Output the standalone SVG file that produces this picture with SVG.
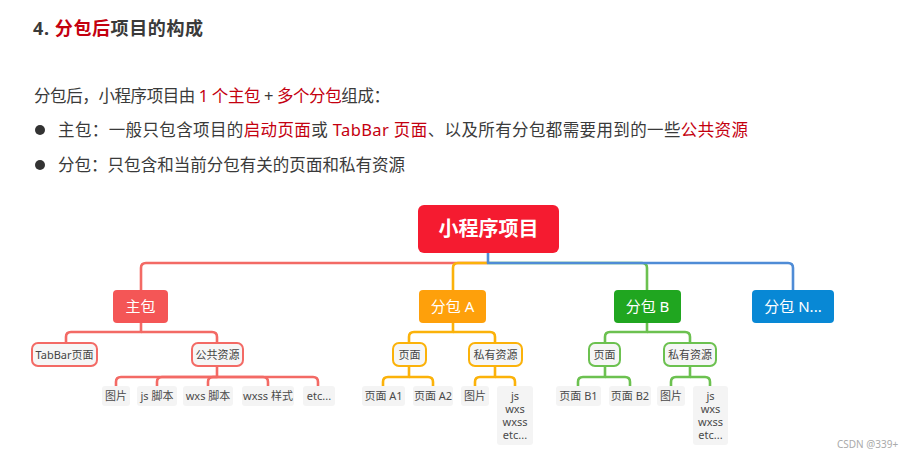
<svg xmlns="http://www.w3.org/2000/svg" width="913" height="458" viewBox="0 0 913 458">
<style>
text{font-family:"Noto Sans","Noto Sans CJK SC",sans-serif;}
.t{fill:#3a3a3a;font-size:16.5px;}
.r{fill:#c4000f;}
.c{fill:none;stroke-width:2.6;stroke-linejoin:round;}
.l1t{fill:#fff;font-size:15px;text-anchor:middle;}
.l2{fill:#f6f6f6;stroke-width:2;}
.l2t{fill:#444;font-size:11px;text-anchor:middle;}
.lf{fill:#f4f4f4;}
.lft{fill:#4a4a4a;font-size:11px;text-anchor:middle;}
</style>
<rect width="913" height="458" fill="#fff"/>
<text x="33" y="35" textLength="170" lengthAdjust="spacing" style="font-size:18px;font-weight:bold;fill:#3a3a3a">4. <tspan fill="#c4000f">分包后</tspan>项目的构成</text>
<text class="t" x="34" y="102" textLength="356" lengthAdjust="spacing">分包后，小程序项目由 <tspan class="r">1 个主包</tspan> + <tspan class="r">多个分包</tspan>组成：</text>
<circle cx="40" cy="130" r="5" fill="#333"/>
<text class="t" x="58" y="136" textLength="690" lengthAdjust="spacing">主包：一般只包含项目的<tspan class="r">启动页面</tspan>或 <tspan class="r">TabBar 页面</tspan>、以及所有分包都需要用到的一些<tspan class="r">公共资源</tspan></text>
<circle cx="40" cy="165" r="5" fill="#333"/>
<text class="t" x="58" y="171" textLength="347" lengthAdjust="spacing">分包：只包含和当前分包有关的页面和私有资源</text>

<g id="connectors">
<path class="c" stroke="#f36a65" d="M488,263 H146 Q141,263 141,268 V290"/>
<path class="c" stroke="#fbb20a" d="M488,263 H458 Q453,263 453,268 V290"/>
<path class="c" stroke="#6cc150" d="M488,263 H642 Q647,263 647,268 V290"/>
<path class="c" stroke="#4f8cd6" d="M488,253 V263 H788 Q793,263 793,268 V290"/>
<g stroke="#f36a65">
<path class="c" d="M141,323 V332 H71 Q66,332 66,337 V343"/>
<path class="c" d="M141,332 H212 Q217,332 217,337 V343"/>
<path class="c" d="M217,366 V377 H121 Q116,377 116,382 V386"/>
<path class="c" d="M217,377 H162 Q157,377 157,382 V386"/>
<path class="c" d="M217,377 H213 Q208,377 208,382 V386"/>
<path class="c" d="M217,377 H263 Q268,377 268,382 V386"/>
<path class="c" d="M217,377 H313 Q318,377 318,382 V386"/>
</g>
<g stroke="#fbb20a">
<path class="c" d="M453,323 V332 H414 Q409,332 409,337 V343"/>
<path class="c" d="M453,332 H490 Q495,332 495,337 V343"/>
<path class="c" d="M409,366 V377 H388 Q383,377 383,382 V386"/>
<path class="c" d="M409,377 H428 Q433,377 433,382 V386"/>
<path class="c" d="M495,366 V377 H480 Q475,377 475,382 V386"/>
<path class="c" d="M495,377 H510 Q515,377 515,382 V386"/>
</g>
<g stroke="#6cc150">
<path class="c" d="M647,323 V332 H610 Q605,332 605,337 V343"/>
<path class="c" d="M647,332 H685 Q690,332 690,337 V343"/>
<path class="c" d="M605,366 V377 H583 Q578,377 578,382 V386"/>
<path class="c" d="M605,377 H625 Q630,377 630,382 V386"/>
<path class="c" d="M690,366 V377 H676 Q671,377 671,382 V386"/>
<path class="c" d="M690,377 H705 Q710,377 710,382 V386"/>
</g>
</g>

<g id="root"><rect x="418" y="205" width="141" height="48" rx="6" fill="#f51b30"/><text x="488.5" y="236" style="fill:#fff;font-size:20px;font-weight:bold;text-anchor:middle">小程序项目</text></g>

<g id="zhubao"><rect x="113" y="290" width="55" height="33" rx="4" fill="#f45656"/><text class="l1t" x="140.5" y="312">主包</text></g>
<g id="fenbaoA"><rect x="419" y="290" width="67" height="33" rx="4" fill="#fea00b"/><text class="l1t" x="452.5" y="312">分包 A</text></g>
<g id="fenbaoB"><rect x="614" y="290" width="67" height="33" rx="4" fill="#20a620"/><text class="l1t" x="647.5" y="312">分包 B</text></g>
<g id="fenbaoN"><rect x="752" y="290" width="82" height="33" rx="4" fill="#0888d5"/><text class="l1t" x="793" y="312">分包 N...</text></g>

<g id="tabbar"><rect class="l2" stroke="#f36a65" x="32" y="343" width="65" height="23" rx="6"/><text class="l2t" x="64.5" y="358.5">TabBar页面</text></g>
<g id="gonggong"><rect class="l2" stroke="#f36a65" x="192" y="343" width="51" height="23" rx="6"/><text class="l2t" x="217.5" y="358.5">公共资源</text></g>
<g id="pageA"><rect class="l2" stroke="#fbb20a" x="393" y="343" width="33" height="23" rx="6"/><text class="l2t" x="409.5" y="358.5">页面</text></g>
<g id="privA"><rect class="l2" stroke="#fbb20a" x="469" y="343" width="53" height="23" rx="6"/><text class="l2t" x="495.5" y="358.5">私有资源</text></g>
<g id="pageB"><rect class="l2" stroke="#6cc150" x="589" y="343" width="31" height="23" rx="6"/><text class="l2t" x="604.5" y="358.5">页面</text></g>
<g id="privB"><rect class="l2" stroke="#6cc150" x="664" y="343" width="52" height="23" rx="6"/><text class="l2t" x="690" y="358.5">私有资源</text></g>

<g id="tupian1"><rect class="lf" x="102" y="386" width="28" height="20" rx="3"/><text class="lft" x="116" y="400">图片</text></g>
<g id="jsjb"><rect class="lf" x="137" y="386" width="40" height="20" rx="3"/><text class="lft" x="157" y="400">js 脚本</text></g>
<g id="wxsjb"><rect class="lf" x="183" y="386" width="50" height="20" rx="3"/><text class="lft" x="208" y="400">wxs 脚本</text></g>
<g id="wxssys"><rect class="lf" x="242" y="386" width="52" height="20" rx="3"/><text class="lft" x="268" y="400">wxss 样式</text></g>
<g id="etc1"><rect class="lf" x="303" y="386" width="32" height="20" rx="3"/><text class="lft" x="319" y="400">etc...</text></g>

<g id="pageA1"><rect class="lf" x="362" y="386" width="43" height="20" rx="3"/><text class="lft" x="383.5" y="400">页面 A1</text></g>
<g id="pageA2"><rect class="lf" x="413" y="386" width="40" height="20" rx="3"/><text class="lft" x="433" y="400">页面 A2</text></g>
<g id="tupianA"><rect class="lf" x="461" y="386" width="28" height="20" rx="3"/><text class="lft" x="475" y="400">图片</text></g>
<g id="resA"><rect class="lf" x="497" y="386" width="36" height="59" rx="3"/><text class="lft"><tspan x="515" y="400">js</tspan><tspan x="515" y="413">wxs</tspan><tspan x="515" y="426">wxss</tspan><tspan x="515" y="439">etc...</tspan></text></g>

<g id="pageB1"><rect class="lf" x="556" y="386" width="45" height="20" rx="3"/><text class="lft" x="578.5" y="400">页面 B1</text></g>
<g id="pageB2"><rect class="lf" x="609" y="386" width="42" height="20" rx="3"/><text class="lft" x="630" y="400">页面 B2</text></g>
<g id="tupianB"><rect class="lf" x="657" y="386" width="28" height="20" rx="3"/><text class="lft" x="671" y="400">图片</text></g>
<g id="resB"><rect class="lf" x="693" y="386" width="35" height="59" rx="3"/><text class="lft"><tspan x="710.5" y="400">js</tspan><tspan x="710.5" y="413">wxs</tspan><tspan x="710.5" y="426">wxss</tspan><tspan x="710.5" y="439">etc...</tspan></text></g>

<text x="837" y="448" style="fill:#aaa;font-size:10px">CSDN @339+</text>
</svg>
